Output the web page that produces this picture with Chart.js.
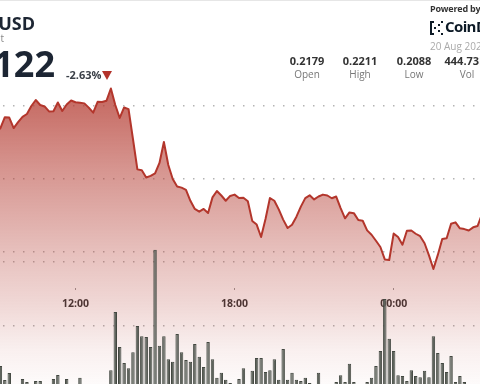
<!DOCTYPE html>
<html><head><meta charset="utf-8">
<script src="https://cdn.jsdelivr.net/npm/chart.js@4/dist/chart.umd.min.js"></script>
<style>
html,body{margin:0;padding:0;background:#fff;width:480px;height:384px;overflow:hidden;font-family:"Open Sans",sans-serif;}
#wrap{position:relative;width:480px;height:384px;overflow:hidden;background:#fff;}
#c{position:absolute;left:-4px;top:0;}
.t{position:absolute;white-space:nowrap;line-height:1;}
.col{position:absolute;width:70px;text-align:center;white-space:nowrap;line-height:1;}
</style></head>
<body><div id="wrap">
<canvas id="c" width="486" height="390"></canvas>
<div style="position:absolute;left:0;top:0;width:480px;height:1px;background:#e6e6e6;"></div>
<div class="t" style="right:445px;top:14px;font-size:18px;font-weight:700;color:#1d2633;">DOGE-USD</div>
<div class="t" style="right:476px;top:33px;font-size:10px;color:#888;">Spot</div>
<div class="t" style="right:425px;top:46px;font-size:36px;font-weight:700;color:#1c2533;">0.2122</div>
<div class="t" style="left:66px;top:69px;font-size:11px;font-weight:700;color:#3a3f47;">-2.63%</div>
<div style="position:absolute;left:102px;top:71px;width:0;height:0;border-left:5.5px solid transparent;border-right:5.5px solid transparent;border-top:9px solid #b3322a;"></div>
<div class="t" style="left:430px;top:4px;font-size:9px;font-weight:700;color:#333;letter-spacing:-0.2px;">Powered by</div>
<svg style="position:absolute;left:430px;top:21px;" width="13" height="14" viewBox="0 0 13 14">
<g fill="#0d1a26"><rect x="0" y="0" width="4" height="2"/><rect x="0" y="0" width="2" height="14"/><rect x="0" y="12" width="4" height="2"/><rect x="4" y="6" width="2" height="2"/><rect x="8" y="3" width="2" height="2"/><rect x="8" y="9" width="2" height="2"/><rect x="11" y="0" width="2" height="2"/><rect x="11" y="12" width="2" height="2"/></g></svg>
<div class="t" style="left:445px;top:19px;font-size:15px;font-weight:700;color:#0d1a26;letter-spacing:-0.6px;">CoinDesk</div>
<div class="t" style="left:430px;top:41px;font-size:10px;color:#aaa;">20 Aug 2025</div>
<div class="col" style="left:272px;top:55px;font-size:11px;font-weight:700;color:#333;">0.2179</div>
<div class="col" style="left:325px;top:55px;font-size:11px;font-weight:700;color:#333;">0.2211</div>
<div class="col" style="left:379px;top:55px;font-size:11px;font-weight:700;color:#333;">0.2088</div>
<div class="col" style="left:432px;top:55px;font-size:11px;font-weight:700;color:#333;">444.73M</div>
<div class="col" style="left:272px;top:69px;font-size:10px;color:#777;">Open</div>
<div class="col" style="left:325px;top:69px;font-size:10px;color:#777;">High</div>
<div class="col" style="left:379px;top:69px;font-size:10px;color:#777;">Low</div>
<div class="col" style="left:432px;top:69px;font-size:10px;color:#777;">Vol</div>
</div>
<script>
const labels = ["09:00","09:10","09:20","09:30","09:40","09:50","10:00","10:10","10:20","10:30","10:40","10:50",
"11:00","11:10","11:20","11:30","11:40","11:50","12:00","12:10","12:20","12:30","12:40","12:50",
"13:00","13:10","13:20","13:30","13:40","13:50","14:00","14:10","14:20","14:30","14:40","14:50",
"15:00","15:10","15:20","15:30","15:40","15:50","16:00","16:10","16:20","16:30","16:40","16:50",
"17:00","17:10","17:20","17:30","17:40","17:50","18:00","18:10","18:20","18:30","18:40","18:50",
"19:00","19:10","19:20","19:30","19:40","19:50","20:00","20:10","20:20","20:30","20:40","20:50",
"21:00","21:10","21:20","21:30","21:40","21:50","22:00","22:10","22:20","22:30","22:40","22:50",
"23:00","23:10","23:20","23:30","23:40","23:50","00:00","00:10","00:20","00:30","00:40","00:50",
"01:00","01:10","01:20","01:30","01:40","01:50","02:00","02:10","02:20","02:30","02:40","02:50",
"03:00","03:10","03:20"];
const price = [0.21815,0.21849,0.21923,0.21921,0.21849,0.21890,0.21925,0.21945,0.22000,0.22041,
0.22007,0.21997,0.21963,0.21964,0.22024,0.21966,0.22010,0.22038,0.22026,0.22023,
0.22018,0.21989,0.21954,0.22029,0.22027,0.22036,0.22120,0.22007,0.21918,0.21990,
0.21979,0.21774,0.21566,0.21560,0.21510,0.21521,0.21538,0.21610,0.21753,0.21596,
0.21500,0.21449,0.21441,0.21426,0.21351,0.21295,0.21276,0.21295,0.21267,0.21374,
0.21418,0.21387,0.21351,0.21384,0.21393,0.21370,0.21371,0.21347,0.21213,0.21188,
0.21103,0.21226,0.21370,0.21351,0.21292,0.21222,0.21164,0.21187,0.21242,0.21311,
0.21369,0.21388,0.21360,0.21380,0.21393,0.21387,0.21368,0.21380,0.21301,0.21231,
0.21271,0.21266,0.21219,0.21214,0.21148,0.21118,0.21077,0.21034,0.20949,0.20945,
0.21126,0.21103,0.21050,0.21146,0.21147,0.21125,0.21108,0.21060,0.20977,0.20884,
0.20980,0.21089,0.21094,0.21193,0.21203,0.21162,0.21157,0.21147,0.21169,0.21178,0.21260];
const volume = [2.0,3.75,1.56,2.66,0.6,0.5,1.72,1.25,0.6,1.4,
1.4,0.8,0.9,1.72,2.34,0.8,1.72,0.6,0.7,1.9,
0.5,0.4,0.6,0.3,0.5,0.7,3.1,12.2,6.7,4.2,
3.4,5.9,10.0,8.4,8.3,6.7,21.9,6.9,8.4,4.8,
4.4,8.75,5.9,4.7,4.4,7.2,5.2,3.6,7.5,4.8,
1.9,2.7,1.6,1.1,0.8,1.7,3.4,0.9,3.0,5.0,
5.0,2.8,3.1,4.8,1.6,6.4,1.6,2.7,1.6,1.4,
1.9,1.1,0.7,2.7,0.6,0.8,0.9,1.25,2.3,1.25,
4.1,1.25,0.7,0.9,1.25,1.9,3.75,6.1,14.2,8.0,
6.1,2.3,2.2,1.4,3.1,2.2,2.0,3.0,2.0,8.4,
5.8,4.2,2.8,5.3,1.25,2.2,1.25,0.8,0.9,0.7,1.7];
const xTickLabels = ["12:00","18:00","00:00"];
const priceGrid = [0.21, 0.215, 0.22];
const volumeGrid = [10, 20];

// layout of the price axis (pixels per dollar and position of the 0.22 line)
const PX_PER_USD = 14600, Y_022 = 106, H = 390;
const yMax = 0.22 + Y_022 / PX_PER_USD;
const yMin = 0.22 - (H - Y_022) / PX_PER_USD;
const xAxisAt = 0.22 - (288 - Y_022) / PX_PER_USD;

function fillGrad(context) {
  const chart = context.chart;
  const area = chart.chartArea;
  if (!area) return 'rgba(180,60,50,0.4)';
  const g = chart.ctx.createLinearGradient(0, area.top, 0, area.bottom);
  const h = area.bottom - area.top;
  g.addColorStop(85 / h, 'rgba(180,60,50,0.80)');
  g.addColorStop(170 / h, 'rgba(180,60,50,0.54)');
  g.addColorStop(250 / h, 'rgba(180,60,50,0.33)');
  g.addColorStop(300 / h, 'rgba(180,60,50,0.21)');
  g.addColorStop(350 / h, 'rgba(180,60,50,0.08)');
  g.addColorStop(1, 'rgba(180,60,50,0.01)');
  return g;
}

const gridStyle = { drawTicks: false, color: 'rgba(130,130,130,0.6)', lineWidth: 1.5 };
const borderStyle = { display: false, dash: [1.5, 8.5], dashOffset: 3 };

new Chart(document.getElementById('c'), {
  data: {
    labels: labels,
    datasets: [
      { type: 'bar', data: volume, yAxisID: 'y2', order: 0,
        backgroundColor: '#5f645d', borderColor: '#434841', borderWidth: 1,
        barPercentage: 0.78, categoryPercentage: 1 },
      { type: 'line', data: price, yAxisID: 'y', order: 1,
        borderColor: '#b3362c', borderWidth: 2, pointRadius: 0, tension: 0,
        borderJoinStyle: 'round', fill: 'start', backgroundColor: fillGrad }
    ]
  },
  options: {
    responsive: false, animation: false, events: [],
    layout: { padding: 0 },
    plugins: { legend: { display: false }, tooltip: { enabled: false } },
    scales: {
      x: {
        type: 'category', offset: false, position: { y: xAxisAt },
        grid: { display: true, offset: false, drawOnChartArea: false, drawTicks: true,
                tickLength: 2, tickColor: '#999', tickWidth: 1 },
        border: { display: false },
        ticks: { autoSkip: false, maxRotation: 0, padding: 8, color: '#333',
                 font: { family: 'Open Sans', size: 10.5, weight: 'bold' } },
        afterBuildTicks: s => { s.ticks = s.ticks.filter(t => xTickLabels.includes(labels[t.value])); },
        afterFit: s => { s.height = 0; }
      },
      y: {
        min: yMin, max: yMax, position: 'left',
        grid: gridStyle, border: borderStyle, ticks: { display: false },
        afterBuildTicks: s => { s.ticks = priceGrid.map(v => ({ value: v })); },
        afterFit: s => { s.width = 0; }
      },
      y2: {
        min: 0, max: H / 6.4, position: 'right',
        grid: gridStyle, border: borderStyle, ticks: { display: false },
        afterBuildTicks: s => { s.ticks = volumeGrid.map(v => ({ value: v })); },
        afterFit: s => { s.width = 0; }
      }
    }
  }
});
</script>
</body></html>
